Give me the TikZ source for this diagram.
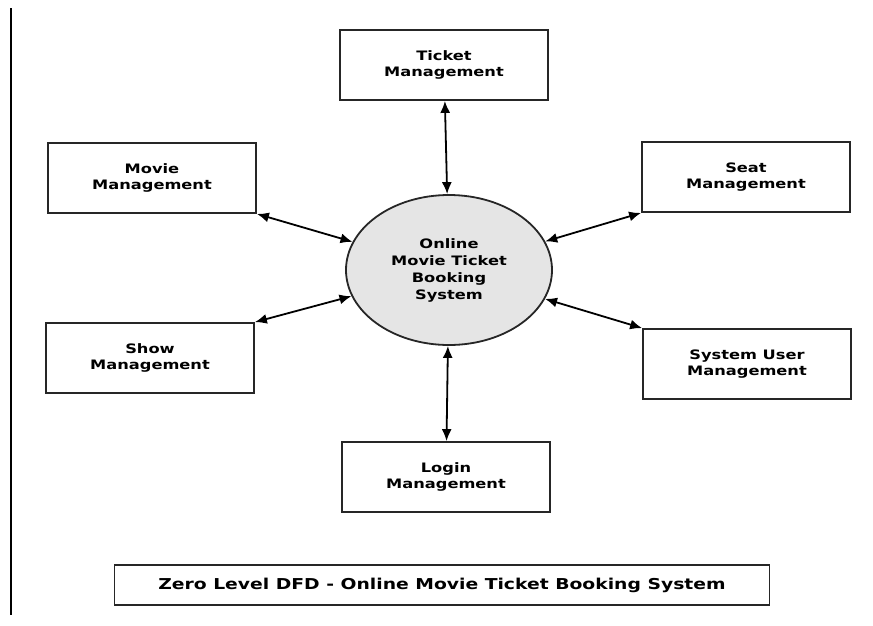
\documentclass[tikz,border=0pt]{standalone}
\usepackage{fontspec}
\setmainfont{DejaVu Sans}
\newfontfamily\widefont[FakeStretch=1.25]{DejaVu Sans}
\usetikzlibrary{positioning,calc,shapes.geometric,arrows.meta}

\tikzset{
    procbox/.style={draw, line width=1.8pt, draw=black!85, minimum width=208pt, minimum height=70pt,
        align=center, font=\widefont\fontsize{13}{16.5}\selectfont\bfseries},
    sysbubble/.style={draw, line width=1.8pt, draw=black!85, ellipse, fill=black!10,
        minimum width=206pt, minimum height=150pt,
        align=center, font=\widefont\fontsize{13}{17}\selectfont\bfseries},
    flow/.style={{Latex[length=12pt,width=10pt]}-{Latex[length=12pt,width=10pt]}, line width=1.8pt},
}

\begin{document}
\begin{tikzpicture}[x=1pt, y=-1pt]
    \useasboundingbox (0,0) rectangle (873,625);
    \draw[line width=1.8pt] (11,8) -- (11,615);

    \node[sysbubble] (sys) at (449,270) {Online\\Movie Ticket\\Booking\\System};

    \node[procbox] (ticket) at (444,65) {Ticket\\Management};
    \node[procbox] (movie) at (152,178) {Movie\\Management};
    \node[procbox] (seat) at (746,177) {Seat\\Management};
    \node[procbox] (show) at (150,358) {Show\\Management};
    \node[procbox] (user) at (747,364) {System User\\Management};
    \node[procbox] (login) at (446,477) {Login\\Management};

    \node[draw, line width=1.8pt, draw=black!85, minimum width=655pt, minimum height=40pt,
        font=\widefont\fontsize{15}{17}\selectfont\bfseries] (title) at (442,585)
        {Zero Level DFD - Online Movie Ticket Booking System};

    \path[flow]
        (ticket) edge (sys)
        (movie.south east) edge (sys)
        (seat.south west) edge (sys)
        (show.north east) edge (sys)
        (user.north west) edge (sys)
        (login) edge (sys);
\end{tikzpicture}
\end{document}
